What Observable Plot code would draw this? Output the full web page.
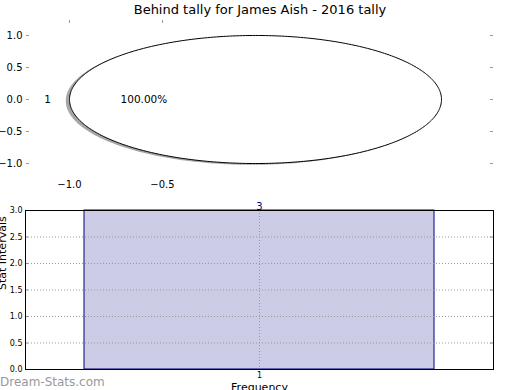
<!DOCTYPE html>
<html><head><meta charset="utf-8">
<script src="https://cdn.jsdelivr.net/npm/d3@7"></script>
<script src="https://cdn.jsdelivr.net/npm/@observablehq/plot@0.6"></script>
<style>
html,body{margin:0;padding:0;background:#fff;}
#wrap{position:relative;width:520px;height:390px;overflow:hidden;font-family:"DejaVu Sans",sans-serif;}
#title{position:absolute;left:0;top:2px;width:520px;text-align:center;font-size:13px;line-height:15px;color:#000;}
#top,#bottom{position:absolute;left:0;}
#top{top:0}
#bottom{top:195px}
#mark{position:absolute;left:0;top:375px;font-size:12px;color:#999;white-space:nowrap;}
</style></head><body>
<div id="wrap"><div id="top"></div><div id="bottom"></div><div id="title"></div><div id="mark"></div></div>
<script>
const chartTitle = "Behind tally for James Aish - 2016 tally";
const categories = ["1"];
const values = [3];
const pieYTicks = [1.0, 0.5, 0.0, -0.5, -1.0];
const pieXTicks = [-1.0, -0.5];
const barYTicks = [0, 0.5, 1, 1.5, 2, 2.5, 3];
const yLabel = "Stat Intervals";
const xLabel = "Frequency";
const watermark = "Dream-Stats.com";

document.getElementById("title").textContent = chartTitle;
document.getElementById("mark").textContent = watermark;

const fmt = d3.format(".1f");
const total = d3.sum(values);
let start = 0;
const slices = categories.map((c, i) => {
  const f = values[i] / total;
  const s = {cat: c, value: values[i], f, a0: start, a1: start + 360 * f};
  start += 360 * f;
  return s;
});
const outline = [];
for (const s of slices) {
  if (s.f < 1) outline.push({slice: s.cat, x: 0, y: 0});
  const n = Math.max(2, Math.ceil(s.a1 - s.a0));
  for (let k = 0; k <= n; k++) {
    const a = (s.a0 + (s.a1 - s.a0) * k / n) * Math.PI / 180;
    outline.push({slice: s.cat, x: Math.cos(a), y: Math.sin(a)});
  }
}
const shadow = outline.map(p => ({slice: p.slice, x: p.x - 0.02, y: p.y - 0.02}));
const labelPos = slices.map(s => {
  const m = (s.a0 + s.a1) / 2 * Math.PI / 180;
  return {text: s.cat, x: 1.1 * Math.cos(m), y: 1.1 * Math.sin(m),
          pct: (s.f * 100).toFixed(2) + "%", px: 0.6 * Math.cos(m), py: 0.6 * Math.sin(m)};
});

const baseStyle = {fontFamily: "DejaVu Sans", fontSize: "10px", background: "transparent", color: "black"};

const topPlot = Plot.plot({
  width: 520, height: 195,
  marginTop: 20, marginBottom: 17, marginLeft: 26, marginRight: 27,
  style: baseStyle,
  x: {domain: [-1.2312, 1.2796]},
  y: {domain: [-1.234, 1.234]},
  marks: [
    Plot.line(shadow, {x: "x", y: "y", z: "slice", curve: "linear-closed", fill: "#4d4d4d", fillOpacity: 0.5, stroke: "none"}),
    Plot.line(outline, {x: "x", y: "y", z: "slice", curve: "linear-closed", fill: "white", stroke: "black", strokeWidth: 1}),
    Plot.text(labelPos.filter(d => d.x <= 0), {x: "x", y: "y", text: "text", textAnchor: "end", fontSize: 10.5}),
    Plot.text(labelPos.filter(d => d.x > 0), {x: "x", y: "y", text: "text", textAnchor: "start", fontSize: 10.5}),
    Plot.text(labelPos, {x: "px", y: "py", text: "pct", fontSize: 10.5}),
    Plot.axisY({ticks: pieYTicks, tickSize: 0, tickPadding: 4, tickFormat: fmt, label: null, fontSize: 10}),
    Plot.axisX({ticks: pieXTicks, tickSize: 0, tickPadding: 2, tickFormat: fmt, label: null, fontSize: 10}),
    Plot.tickY(pieYTicks, {y: d => d, insetRight: 464, stroke: "#999"}),
    Plot.tickY(pieYTicks, {y: d => d, insetLeft: 464, stroke: "#999"}),
    Plot.tickX(pieXTicks, {x: d => d, insetBottom: 155, stroke: "#999"})
  ]
});
document.getElementById("top").appendChild(topPlot);

const barData = categories.map((c, i) => ({cat: c, value: values[i]}));
const bottomPlot = Plot.plot({
  width: 520, height: 195,
  marginTop: 15, marginBottom: 21, marginLeft: 25, marginRight: 27,
  style: baseStyle,
  x: {type: "band", domain: categories, paddingInner: 0.2, paddingOuter: 0.135},
  y: {domain: [0, 3]},
  marks: [
    Plot.barY(barData, {x: "cat", y: "value", fill: "#cccce6", stroke: "#000080", strokeWidth: 1}),
    Plot.gridY({ticks: barYTicks, stroke: "#999", strokeOpacity: 1, strokeDasharray: "1,2"}),
    Plot.gridX({ticks: categories, stroke: "#999", strokeOpacity: 1, strokeDasharray: "1,2"}),
    Plot.tickY(barYTicks, {y: d => d, insetRight: 465, stroke: "#888"}),
    Plot.tickY(barYTicks, {y: d => d, insetLeft: 465, stroke: "#888"}),
    Plot.text(barData, {x: "cat", y: "value", text: d => String(d.value), lineAnchor: "bottom", dy: -1, fill: "#000080", fontSize: 10}),
    Plot.axisY({ticks: barYTicks, tickSize: 0, tickPadding: 3, tickFormat: fmt, label: null, fontSize: 8}),
    Plot.axisX({tickSize: 0, tickPadding: 3, label: null, fontSize: 8}),
    Plot.text([yLabel], {frameAnchor: "left", rotate: -90, text: d => d, dx: -20, lineAnchor: "bottom", fontSize: 11}),
    Plot.text([xLabel], {frameAnchor: "bottom", text: d => d, dy: 14, lineAnchor: "top", fontSize: 11}),
    Plot.frame({stroke: "black"})
  ]
});
document.getElementById("bottom").appendChild(bottomPlot);
</script>
</body></html>
